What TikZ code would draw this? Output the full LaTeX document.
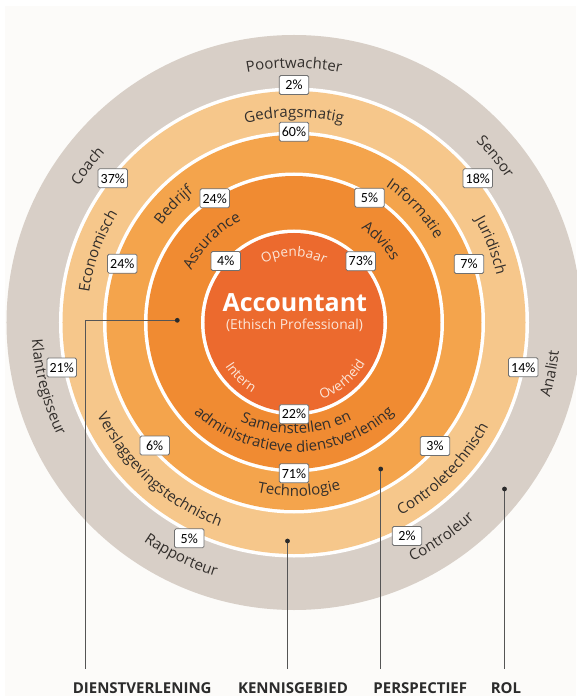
\documentclass[tikz,border=0pt]{standalone}
\usepackage{fontspec}
\setmainfont{Open Sans}
\newfontfamily\boxfont{Carlito}
\usetikzlibrary{decorations.text}
\definecolor{bgcol}{HTML}{FCFBF9}
\definecolor{rolcol}{HTML}{D8CFC7}
\definecolor{kencol}{HTML}{F6C78B}
\definecolor{percol}{HTML}{F4A44C}
\definecolor{diecol}{HTML}{F08B32}
\definecolor{acccol}{HTML}{EC6A2E}
\definecolor{ringtxt}{HTML}{332F2C}
\definecolor{inntxt}{HTML}{FCE6D8}
\definecolor{boxline}{HTML}{707070}
\definecolor{leadcol}{HTML}{555555}
\definecolor{labcol}{HTML}{2B2B2B}
\newcommand\ringfnt{\fontsize{15}{18}\selectfont}
\newcommand\innfnt{\fontsize{13.5}{16}\selectfont}
% top-style curved label: angle, mid radius, text, font, colour
\newcommand\arctop[5]{\path[decorate,decoration={text along path,text align=center,text color=#5,text={|#4|#3}}] ({#1+75}:{#2-4.5}) arc[start angle={#1+75},end angle={#1-75},radius={#2-4.5}];}
% bottom-style curved label
\newcommand\arcbot[5]{\path[decorate,decoration={text along path,text align=center,text color=#5,text={|#4|#3}}] ({#1-75}:{#2+4.5}) arc[start angle={#1-75},end angle={#1+75},radius={#2+4.5}];}
\tikzset{
  pbox/.style={draw=boxline,line width=0.8pt,fill=white,rounded corners=1.5pt,minimum width=29.5pt,minimum height=19pt,inner sep=0pt,font=\boxfont\fontsize{14}{14}\selectfont,text=black},
  leader/.style={draw=leadcol,line width=0.9pt},
  dotmark/.style={fill=labcol},
  catlabel/.style={font=\bfseries\fontsize{15}{18}\selectfont,text=labcol,anchor=base,inner sep=0pt}
}
\begin{document}
\begin{tikzpicture}[x=1pt,y=1pt]
\useasboundingbox (-294,-373.5) rectangle (282,322.5);
\fill[white] (-294,-373.5) rectangle (282,322.5);
\fill[bgcol] (-289,-373.5) rectangle (282,316.5);
% rings
\fill[rolcol] (0,0) circle (287.5);
\fill[white] (0,0) circle (235);
\fill[kencol] (0,0) circle (231.5);
\fill[white] (0,0) circle (191);
\fill[percol] (0,0) circle (187.5);
\fill[white] (0,0) circle (150);
\fill[diecol] (0,0) circle (146.5);
\fill[white] (0,0) circle (93);
\fill[acccol] (0,0) circle (89.5);
% ROL ring
\arctop{90}{259}{Poortwachter}{\ringfnt}{ringtxt}
\arctop{142.9}{258.8}{Coach}{\ringfnt}{ringtxt}
\arctop{39.5}{261}{Sensor}{\ringfnt}{ringtxt}
\arcbot{194.7}{258}{Klantregisseur}{\ringfnt}{ringtxt}
\arcbot{-11.2}{262}{Analist}{\ringfnt}{ringtxt}
\arcbot{244.2}{261}{Rapporteur}{\ringfnt}{ringtxt}
\arcbot{-55.5}{262}{Controleur}{\ringfnt}{ringtxt}
% KENNISGEBIED ring
\arctop{90}{209.5}{Gedragsmatig}{\ringfnt}{ringtxt}
\arctop{160}{211.5}{Economisch}{\ringfnt}{ringtxt}
\arctop{21.4}{212.5}{Juridisch}{\ringfnt}{ringtxt}
\arcbot{227.6}{213}{Verslaggevingstechnisch}{\ringfnt}{ringtxt}
\arcbot{-44.5}{216}{Controletechnisch}{\ringfnt}{ringtxt}
% PERSPECTIEF ring
\arctop{135.8}{168.7}{Bedrijf}{\ringfnt}{ringtxt}
\arctop{43.3}{168.7}{Informatie}{\ringfnt}{ringtxt}
\arcbot{-88.3}{169}{Technologie}{\ringfnt}{ringtxt}
% DIENSTVERLENING ring
\arctop{135.2}{119.5}{Assurance}{\ringfnt}{ringtxt}
\arctop{43.2}{120}{Advies}{\ringfnt}{ringtxt}
\begin{scope}[shift={(0,20)}]
\arcbot{-89}{126.5}{Samenstellen en}{\ringfnt}{ringtxt}
\arcbot{-90}{145}{administratieve dienstverlening}{\ringfnt}{ringtxt}
\end{scope}
% centre
\arctop{90}{70.5}{Openbaar}{\innfnt}{inntxt}
\arcbot{225.8}{77}{Intern}{\innfnt}{inntxt}
\arcbot{-50}{77.5}{Overheid}{\innfnt}{inntxt}
\node[font=\bfseries\fontsize{25}{28}\selectfont,text=white,anchor=base,inner sep=0pt] (acc) at (0.8,10.8) {Accountant};
\node[font=\fontsize{13.8}{16}\selectfont,text=inntxt,anchor=base,inner sep=0pt] (eth) at (0.5,-7.5) {(Ethisch Professional)};
% leader lines
\coordinate (dDie) at (-116.7,2.2);
\coordinate (kDie) at (-208.3,2.2);
\coordinate (eDie) at (-208.3,-346.5);
\coordinate (dKen) at (-6.5,-218.5);
\coordinate (eKen) at (-6.5,-346.5);
\coordinate (dPer) at (86.7,-146.5);
\coordinate (ePer) at (86.7,-346.5);
\coordinate (dRol) at (210.5,-166.5);
\coordinate (eRol) at (210.5,-346.5);
\draw[leader] (dDie) -- (kDie) -- (eDie);
\draw[leader] (dKen) -- (eKen);
\draw[leader] (dPer) -- (ePer);
\draw[leader] (dRol) -- (eRol);
\fill[dotmark] (dDie) circle (2.4);
\fill[dotmark] (dKen) circle (2.4);
\fill[dotmark] (dPer) circle (2.4);
\fill[dotmark] (dRol) circle (2.4);
\node[catlabel] (lDie) at (-151.8,-370.5) {DIENSTVERLENING};
\node[catlabel] (lKen) at (-1,-370.5) {KENNISGEBIED};
\node[catlabel] (lPer) at (126.3,-370.5) {PERSPECTIEF};
\node[catlabel] (lRol) at (212,-370.5) {ROL};
% percentage boxes
\node[pbox] (b2t) at (0,237.5) {2\%};
\node[pbox] (b37) at (-181.2,144.2) {37\%};
\node[pbox] (b18) at (183.8,144.2) {18\%};
\node[pbox] (b21) at (-232.3,-45) {21\%};
\node[pbox] (b14) at (229.3,-44.8) {14\%};
\node[pbox] (b5r) at (-104.7,-215.8) {5\%};
\node[pbox] (b2b) at (113,-213.5) {2\%};
\node[pbox] (b60) at (0,190.8) {60\%};
\node[pbox] (b24e) at (-171.7,58.8) {24\%};
\node[pbox] (b7) at (175,58.5) {7\%};
\node[pbox] (b6) at (-139.3,-123) {6\%};
\node[pbox] (b3) at (141,-123.5) {3\%};
\node[pbox] (b24b) at (-79.3,124.2) {24\%};
\node[pbox] (b5i) at (75.5,124.7) {5\%};
\node[pbox] (b71) at (0,-150.8) {71\%};
\node[pbox] (b4) at (-68.2,61.5) {4\%};
\node[pbox] (b73) at (66.8,61.3) {73\%};
\node[pbox] (b22) at (0,-91.7) {22\%};
\end{tikzpicture}
\end{document}
